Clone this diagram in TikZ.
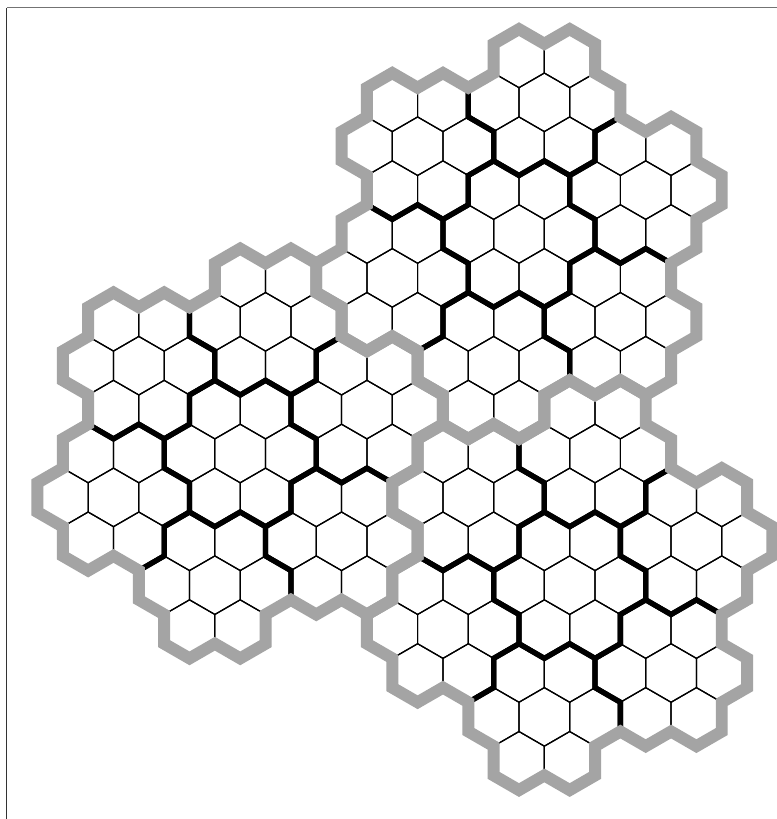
\documentclass[tikz,border=0pt]{standalone}
\definecolor{bandgray}{RGB}{164,164,164}
\tikzset{
  thinhex/.style={line width=0.7pt, draw=black},
  flowerline/.style={line width=3.0pt, draw=black, line join=miter},
  clusterline/.style={line width=6.8pt, draw=bandgray, line join=miter},
  framel/.style={line width=0.75pt, draw=black!80},
  framet/.style={line width=0.75pt, draw=black!55},
}
\begin{document}
\begin{tikzpicture}[x=0.02cm, y=-0.02cm]
\fill[white] (0,0) rectangle (777,819);
\useasboundingbox (0,0) rectangle (777,819);
\coordinate (fa) at (6.5,819);
\coordinate (fb) at (6.5,7.5);
\coordinate (fc) at (777,7.5);
\draw[framel] (fa) -- (fb);
\draw[framet] (fb) -- (fc);
\begin{scope}[shift={(519,234)}, x=1.014cm, y=1.014cm]
  % layer 1: thin hexagon cells
  \foreach \cx/\cy in {0/0, -5.5/-4.330127, 1/-6.928203} {
    \begin{scope}[shift={(\cx,\cy)}]
      \foreach \fa/\fr in {0/0, 19.1066/2.645751, 79.1066/2.645751, 139.1066/2.645751, 199.1066/2.645751, 259.1066/2.645751, 319.1066/2.645751} {
        \begin{scope}[shift={(\fa:\fr)}]
          \foreach \ha/\hr in {0/0, 0/1, 60/1, 120/1, 180/1, 240/1, 300/1} {
            \draw[thinhex] (\ha:\hr) ++(30:0.57735) -- ++(150:0.57735) -- ++(210:0.57735) -- ++(270:0.57735) -- ++(330:0.57735) -- ++(30:0.57735) -- cycle;
          }
        \end{scope}
      }
    \end{scope}
  }
  % layer 2: black outlines of the seven-cell flowers
  \foreach \cx/\cy in {0/0, -5.5/-4.330127, 1/-6.928203} {
    \begin{scope}[shift={(\cx,\cy)}]
      \foreach \fa/\fr in {0/0, 19.1066/2.645751, 79.1066/2.645751, 139.1066/2.645751, 199.1066/2.645751, 259.1066/2.645751, 319.1066/2.645751} {
        \begin{scope}[shift={(\fa:\fr)}]
          \draw[flowerline] (-30:1.154701) -- (-10.8934:1.527525) -- (10.8934:1.527525)
            \foreach \k in {1,...,5} { -- (60*\k-30:1.154701) -- (60*\k-10.8934:1.527525) -- (60*\k+10.8934:1.527525) } -- cycle;
        \end{scope}
      }
    \end{scope}
  }
  % layer 3: grey outlines of the three 49-cell clusters
  \foreach \cx/\cy in {0/0, -5.5/-4.330127, 1/-6.928203} {
    \begin{scope}[shift={(\cx,\cy)}]
      \draw[clusterline] (-10.8934:3.055050) -- (-4.7150:3.511885) -- (4.7150:3.511885) -- (8.2132:4.041452) -- (16.1021:4.163332) -- (22.4109:3.785939) -- (30:4.041452) -- (37.5891:3.785939) -- (38.9483:3.214550)
        \foreach \j in {1,...,5} { -- (60*\j-10.8934:3.055050) -- (60*\j-4.7150:3.511885) -- (60*\j+4.7150:3.511885) -- (60*\j+8.2132:4.041452) -- (60*\j+16.1021:4.163332) -- (60*\j+22.4109:3.785939) -- (60*\j+30:4.041452) -- (60*\j+37.5891:3.785939) -- (60*\j+38.9483:3.214550) } -- cycle;
    \end{scope}
  }
\end{scope}
\end{tikzpicture}
\end{document}
